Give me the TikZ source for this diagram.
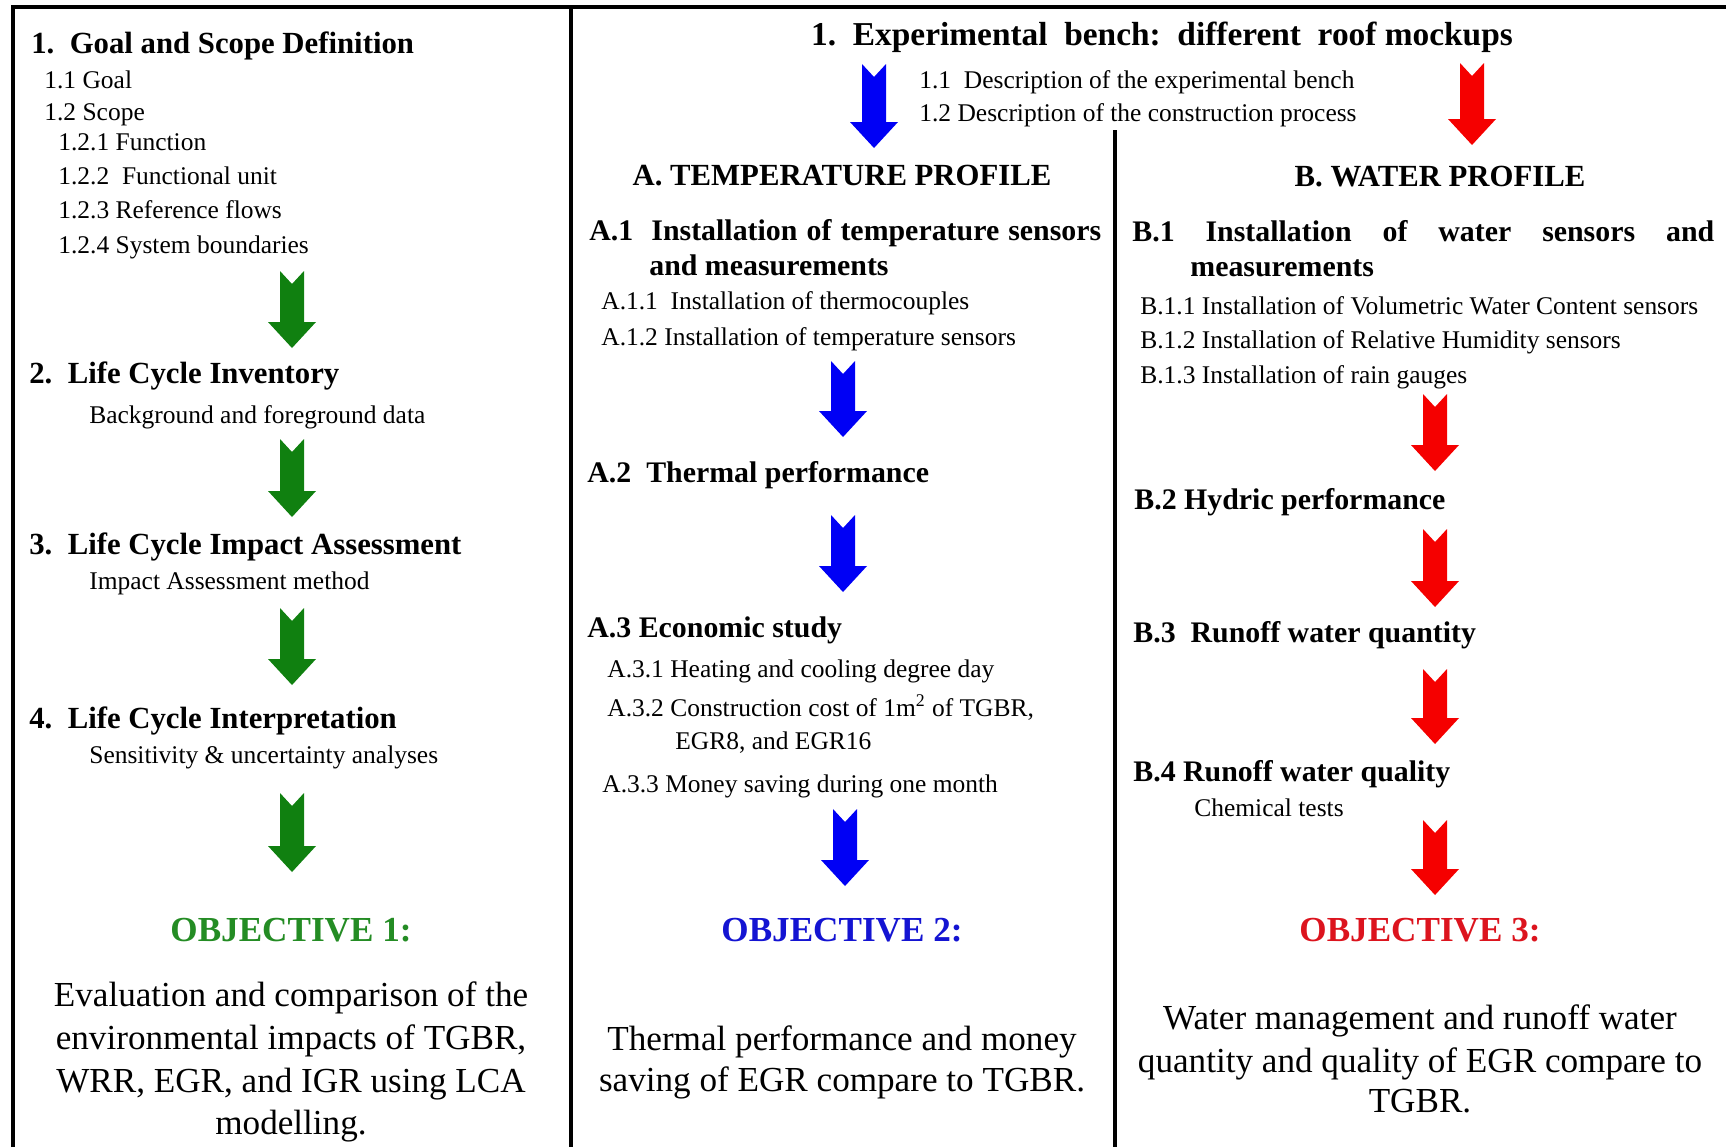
\documentclass[tikz,border=0pt]{standalone}
\usepackage{fontspec}
\setmainfont{Liberation Serif}

\definecolor{lcagreen}{RGB}{16,128,16}
\definecolor{objgreen}{RGB}{36,140,36}
\definecolor{benchblue}{RGB}{0,0,245}
\definecolor{objblue}{RGB}{20,20,210}
\definecolor{benchred}{RGB}{245,0,0}
\definecolor{objred}{RGB}{220,20,30}

\tikzset{
  frame/.style={line width=2.2pt},
  head/.style={anchor=base west, inner sep=0pt, font=\fontsize{17.5}{21}\selectfont\bfseries},
  subhead/.style={anchor=base west, inner sep=0pt, font=\fontsize{17}{20}\selectfont\bfseries},
  item/.style={anchor=base west, inner sep=0pt, font=\fontsize{14.5}{17}\selectfont},
  profile/.style={anchor=base, inner sep=0pt, font=\fontsize{17.5}{21}\selectfont\bfseries},
  objective/.style={anchor=base, inner sep=0pt, font=\fontsize{20}{24}\selectfont\bfseries},
  objline/.style={anchor=base, inner sep=0pt, font=\fontsize{20}{24}\selectfont},
  downarr/.pic={
    \fill (-12,0) -- (0,13) -- (12,0) -- (12,{#1-26}) -- (24,{#1-26})
      -- (0,#1) -- (-24,{#1-26}) -- (-12,{#1-26}) -- cycle;
  }
}

\begin{document}
\begin{tikzpicture}[x=0.02cm,y=-0.02cm]
\useasboundingbox (0,0) rectangle (1726,1147);

% frame and column rules
\draw[frame] (13,1147) -- (13,7) -- (1726,7);
\draw[frame] (571,7) -- (571,1147);
\draw[frame] (1115,130) -- (1115,1147);

% ---- left column: LCA
\node[head] (goal) at (31,53) {1.\ \ Goal and Scope Definition};
\foreach \n/\x/\y/\t in {g11/44/88/1.1 Goal, g12/44/120/1.2 Scope,
    g121/58/150/1.2.1 Function, g122/58/184/1.2.2\ \ Functional unit,
    g123/58/218/1.2.3 Reference flows, g124/58/253/1.2.4 System boundaries}
  \node[item] (\n) at (\x,\y) {\t};
\node[head] (lci) at (29,383) {2.\ \ Life Cycle Inventory};
\node[item] (lcidata) at (89,423) {Background and foreground data};
\node[head] (lcia) at (29,554) {3.\ \ Life Cycle Impact Assessment};
\node[item] (lciameth) at (89,589) {Impact Assessment method};
\node[head] (lcint) at (29,728) {4.\ \ Life Cycle Interpretation};
\node[item] (lcintsens) at (89,763) {Sensitivity \& uncertainty analyses};

\foreach \y/\l in {271/77, 439/78, 608/77, 793/79}
  \pic[fill=lcagreen] at (292,\y) {downarr=\l};

\node[objective, text=objgreen] (obj1) at (291,941) {OBJECTIVE 1:};
\foreach \y/\t in {1006/Evaluation and comparison of the,
    1049/{environmental impacts of TGBR,}, 1092/{WRR, EGR, and IGR using LCA},
    1134/modelling.}
  \node[objline] at (291,\y) {\t};

% ---- experimental bench
\node[anchor=base, inner sep=0pt, font=\fontsize{19}{23}\selectfont\bfseries]
  (bench) at (1162,45) {1.\ \ Experimental\ \ bench:\ \ different\ \ roof mockups};
\node[item] (desc1) at (919,88) {1.1\ \ Description of the experimental bench};
\node[item] (desc2) at (919,121) {1.2 Description of the construction process};
\pic[fill=benchblue] at (874,64) {downarr=84};
\pic[fill=benchred] at (1472,63) {downarr=82};

% ---- A. temperature profile
\node[profile] (tprof) at (842,185) {A. TEMPERATURE PROFILE};
\node[subhead] (a1) at (589,240)
  {\makebox[10.24cm][s]{A.1\ \ Installation of temperature sensors}};
\node[subhead] (a1b) at (649,275) {and measurements};
\node[item] (a11) at (601,309) {A.1.1\ \ Installation of thermocouples};
\node[item] (a12) at (601,345) {A.1.2 Installation of temperature sensors};
\node[subhead] (a2) at (587,482) {A.2\ \ Thermal performance};
\node[subhead] (a3) at (587,637) {A.3 Economic study};
\node[item] (a31) at (607,677) {A.3.1 Heating and cooling degree day};
\node[item] (a32) at (607,716) {A.3.2 Construction cost of 1m\textsuperscript{2} of TGBR,};
\node[item] (a32b) at (675,749) {EGR8, and EGR16};
\node[item] (a33) at (602,792) {A.3.3 Money saving during one month};

\foreach \y/\l in {361/76, 515/77}
  \pic[fill=benchblue] at (843,\y) {downarr=\l};
\pic[fill=benchblue] at (845,809) {downarr=77};

\node[objective, text=objblue] (obj2) at (842,941) {OBJECTIVE 2:};
\node[objline] (obj2a) at (842,1050) {Thermal performance and money};
\node[objline] (obj2b) at (842,1091) {saving of EGR compare to TGBR.};

% ---- B. water profile
\node[profile] (wprof) at (1440,186) {B. WATER PROFILE};
\node[subhead] (b1) at (1132,241)
  {\makebox[11.64cm][s]{B.1 Installation of water sensors and}};
\node[subhead] (b1b) at (1190,276) {measurements};
\node[item] (b11) at (1140,314) {B.1.1 Installation of Volumetric Water Content sensors};
\node[item] (b12) at (1140,348) {B.1.2 Installation of Relative Humidity sensors};
\node[item] (b13) at (1140,383) {B.1.3 Installation of rain gauges};
\node[subhead] (b2) at (1134,509) {B.2 Hydric performance};
\node[subhead] (b3) at (1133,642) {B.3\ \ Runoff water quantity};
\node[subhead] (b4) at (1133,781) {B.4 Runoff water quality};
\node[item] (b4chem) at (1194,816) {Chemical tests};

\foreach \y/\l in {394/77, 529/78, 669/75, 820/75}
  \pic[fill=benchred] at (1435,\y) {downarr=\l};

\node[objective, text=objred] (obj3) at (1420,941) {OBJECTIVE 3:};
\foreach \y/\t in {1029/Water management and runoff water,
    1072/quantity and quality of EGR compare to, 1112/TGBR.}
  \node[objline] at (1420,\y) {\t};
\end{tikzpicture}
\end{document}
